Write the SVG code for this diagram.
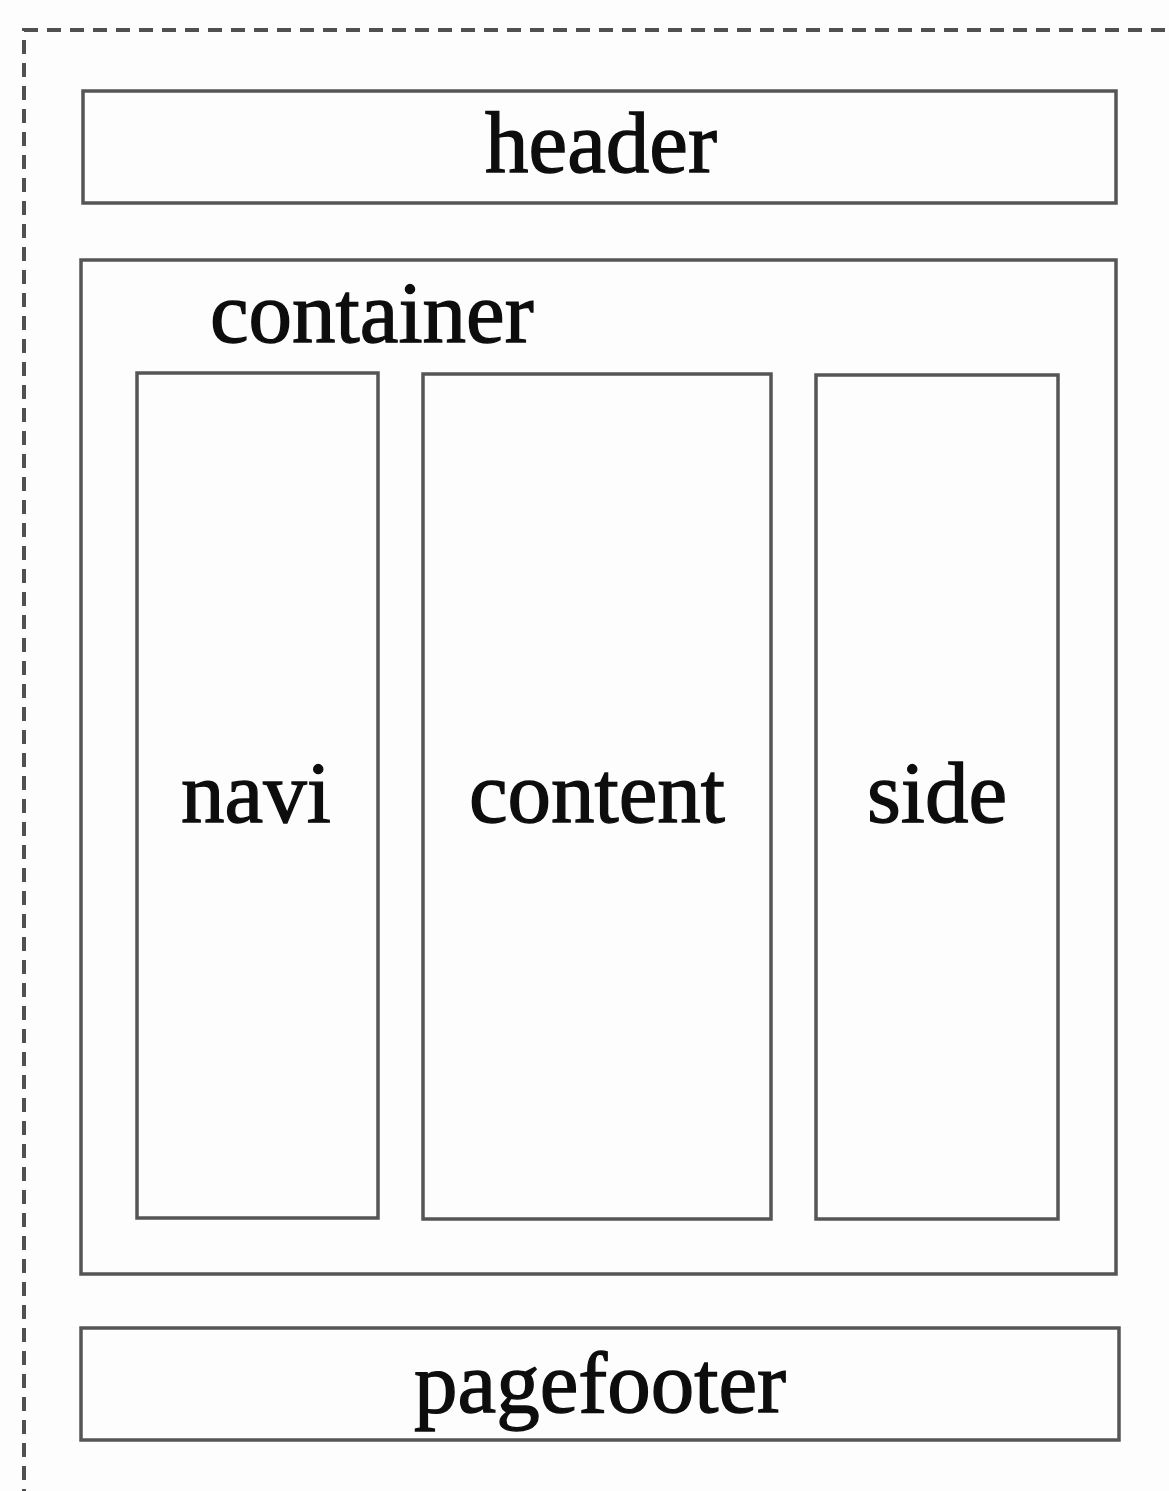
<svg xmlns="http://www.w3.org/2000/svg" width="1169" height="1491" viewBox="0 0 1169 1491">
  <style>
    .box { fill: #fdfdfd; stroke: #555; stroke-width: 3.5; }
    .page { fill: #fdfdfd; stroke: #505050; stroke-width: 4; stroke-dasharray: 14 9; }
    .label { font-family: "Liberation Serif", "Times New Roman", serif; font-size: 87px; fill: #0d0d0d; stroke: #0d0d0d; stroke-width: 1.3; }
  </style>
  <rect width="1169" height="1491" fill="#fdfdfd"/>

  <!-- page wrapper (dashed, runs past the right and bottom edges) -->
  <g id="page">
    <rect class="page" x="24" y="30" width="1180" height="1500"/>
  </g>

  <g id="header">
    <rect class="box" x="83" y="91" width="1033" height="112"/>
    <text class="label" x="601" y="172" text-anchor="middle">header</text>
  </g>

  <g id="container">
    <rect class="box" x="81" y="260" width="1035" height="1014"/>
    <text class="label" x="210" y="342">container</text>
  </g>

  <g id="navi">
    <rect class="box" x="137" y="373" width="241" height="845"/>
    <text class="label" x="256" y="822" text-anchor="middle">navi</text>
  </g>

  <g id="content">
    <rect class="box" x="423" y="374" width="348" height="845"/>
    <text class="label" x="597" y="822" text-anchor="middle">content</text>
  </g>

  <g id="side">
    <rect class="box" x="816" y="375" width="242" height="844"/>
    <text class="label" x="937" y="822" text-anchor="middle">side</text>
  </g>

  <g id="pagefooter">
    <rect class="box" x="81" y="1328" width="1038" height="112"/>
    <text class="label" x="600" y="1412" text-anchor="middle">pagefooter</text>
  </g>

  <g id="connectors"/>
</svg>
